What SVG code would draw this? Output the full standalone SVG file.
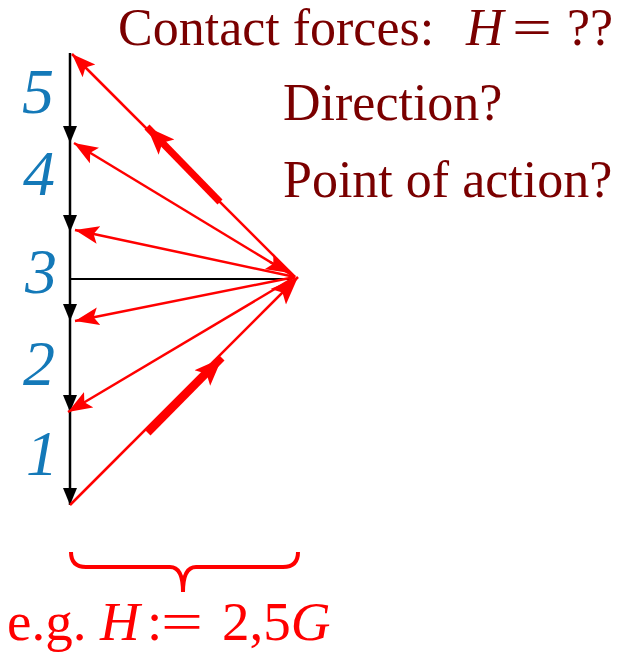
<svg xmlns="http://www.w3.org/2000/svg" width="636" height="654" viewBox="0 0 636 654">
<style>
.num{font-family:"Liberation Serif",serif;font-style:italic;font-size:64px;fill:#1479b8;text-anchor:middle}
.t{font-family:"Liberation Serif",serif;font-size:52px;fill:#7a0000}
.it{font-style:italic}
.rt{font-family:"Liberation Serif",serif;font-size:55px;fill:#ff0000}
.r{stroke:#ff0000;stroke-width:2.5;fill:none}
.rk{stroke:#ff0000;stroke-width:7;fill:none}
.b{stroke:#000;stroke-width:2.5;fill:none}
</style>
<defs>
<marker id="ra" markerUnits="userSpaceOnUse" markerWidth="26" markerHeight="20" refX="24" refY="9" orient="auto" viewBox="0 0 26 18">
<path d="M0,0 L24,9 L0,18 L5,9 Z" fill="#ff0000"/>
</marker>
<marker id="rb" markerUnits="userSpaceOnUse" markerWidth="30" markerHeight="24" refX="28" refY="11" orient="auto" viewBox="0 0 30 22">
<path d="M0,0 L28,11 L0,22 L6,11 Z" fill="#ff0000"/>
</marker>
<marker id="ba" markerUnits="userSpaceOnUse" markerWidth="18" markerHeight="14" refX="17" refY="7" orient="auto" viewBox="0 0 18 14">
<path d="M0,0 L17,7 L0,14 Z" fill="#000"/>
</marker>
</defs>
<g id="axis">
<line class="b" x1="70" y1="53" x2="70" y2="143" marker-end="url(#ba)"/>
<line class="b" x1="70" y1="143" x2="70" y2="232" marker-end="url(#ba)"/>
<line class="b" x1="70" y1="232" x2="70" y2="321" marker-end="url(#ba)"/>
<line class="b" x1="70" y1="321" x2="70" y2="412" marker-end="url(#ba)"/>
<line class="b" x1="70" y1="412" x2="70" y2="505" marker-end="url(#ba)"/>
<line stroke="#000" stroke-width="1.8" x1="70" y1="279" x2="292" y2="279"/>
</g>
<g id="connectors">
<line class="r" x1="295" y1="277" x2="72" y2="54" marker-end="url(#ra)"/>
<line class="r" x1="295" y1="277" x2="74" y2="143" marker-end="url(#ra)"/>
<line class="r" x1="270" y1="262" x2="290" y2="273" marker-end="url(#ra)"/>
<line class="r" stroke-width="3" x1="295" y1="277" x2="75" y2="230" marker-end="url(#ra)"/>
<line class="r" stroke-width="3" x1="295" y1="277" x2="75" y2="321" marker-end="url(#ra)"/>
<line class="r" stroke-width="3" x1="295" y1="277" x2="68" y2="412" marker-end="url(#ra)"/>
<line class="r" x1="70" y1="505" x2="298" y2="277" marker-end="url(#rb)"/>
<line class="rk" x1="220" y1="202" x2="147" y2="127" marker-end="url(#rb)"/>
<line class="rk" x1="148" y1="433" x2="222" y2="358" marker-end="url(#rb)"/>
</g>
<g id="labels">
<text class="num" x="38" y="113">5</text>
<text class="num" x="39" y="195">4</text>
<text class="num" x="41" y="293">3</text>
<text class="num" x="39" y="385">2</text>
<text class="num" x="42" y="475">1</text>
</g>
<g id="title">
<text class="t" x="118" y="45">Contact forces:<tspan class="it" x="466">H</tspan></text>
<text class="t" x="512" y="45" textLength="40" lengthAdjust="spacingAndGlyphs">=</text>
<text class="t" x="567" y="45">??</text>
<text class="t" x="283" y="120">Direction?</text>
<text class="t" x="283" y="197">Point of action?</text>
</g>
<g id="brace">
<path d="M71,552 Q71,567 86,567 L170,567 Q183,567 183,592 Q183,567 196,567 L283,567 Q298,567 298,552" stroke="#ff0000" stroke-width="4" fill="none"/>
<text class="rt" x="7" y="640">e.g.<tspan class="it" x="100">H</tspan><tspan x="147">:</tspan></text>
<text class="rt" x="161" y="640" textLength="42" lengthAdjust="spacingAndGlyphs">=</text>
<text class="rt" x="222" y="640">2,5<tspan class="it">G</tspan></text>
</g>
</svg>
